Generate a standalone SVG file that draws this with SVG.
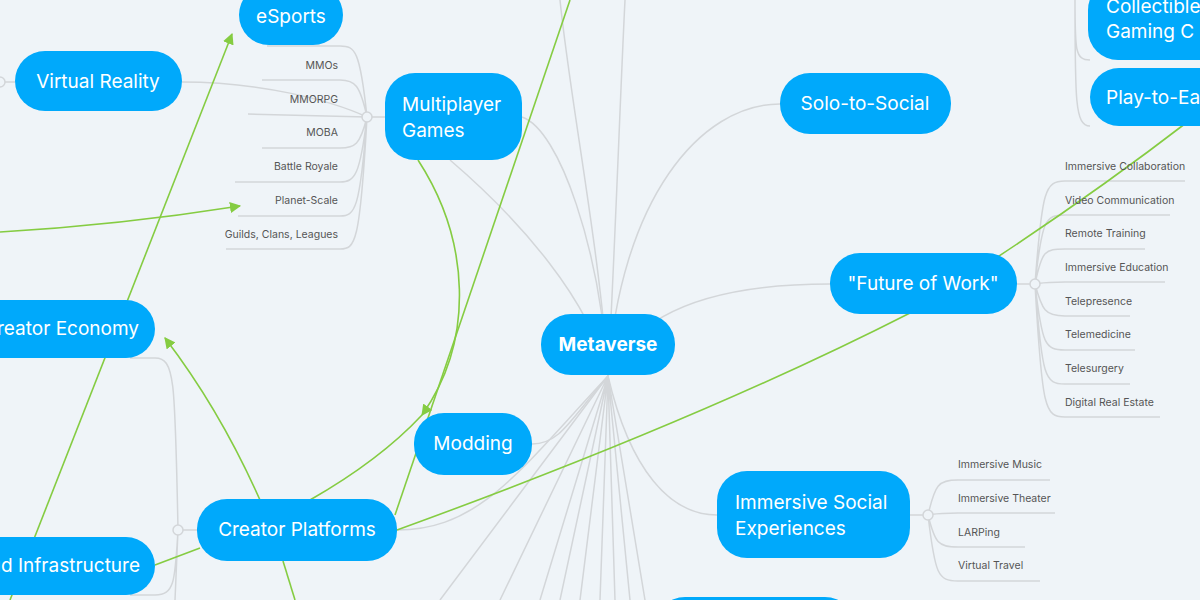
<svg xmlns="http://www.w3.org/2000/svg" width="1200" height="600" viewBox="0 0 1200 600">
<style>
.n{fill:#00a9fb}
.t{font-family:"Inter","Noto Sans",sans-serif;fill:#fff;font-size:19px}
.s{font-family:"Inter","Noto Sans",sans-serif;fill:#555;font-size:10.5px}
.g{fill:none;stroke:#d3d6d9;stroke-width:1.5}
.gr{fill:none;stroke:#85cc42;stroke-width:1.6}
.c{fill:#eff4f8;stroke:#d3d6d9;stroke-width:1.5}
</style>
<defs><marker id="a" viewBox="0 0 10 10" refX="9" refY="5" markerWidth="7" markerHeight="7" orient="auto"><path d="M0,0L10,5L0,10z" fill="#85cc42"/></marker></defs>
<rect width="1200" height="600" fill="#eff4f8"/>
<g id="connectors">
<g class="g">
<path d="M608,376C600,250 560,130 522,117"/>
<path d="M608,376C590,300 520,220 450,160"/>
<path d="M608,376C620,200 700,104 780,104"/>
<path d="M608,376C640,300 740,284 830,284"/>
<path d="M608,376C630,470 670,515 717,515"/>
<path d="M608,376C570,420 560,444 532,444"/>
<path d="M608,376C520,470 480,530 397,530"/>
<path d="M608,376C600,250 570,100 560,0"/>
<path d="M608,376C615,250 620,100 625,0"/>
<path d="M608,376L540,600M608,376L560,600M608,376L580,600M608,376L600,600M608,376L615,600M608,376L630,600M608,376L645,600M608,376L500,600M608,376L440,600"/>
<path d="M182,82C260,82 330,100 367,117"/>
<path d="M367,117L385,117"/>
<path d="M367,117C360,50 355,46 340,46L267,46M367,117C360,85 355,80 340,80L262,80M367,117L248,114M367,117C360,145 355,148 340,148L262,148M367,117C360,175 355,182 340,182L235,182M367,117C360,210 355,216 340,216L238,216M367,117C360,245 355,249 340,249L226,249"/>
<path d="M1017,284L1035,284"/>
<path d="M1035,284C1042,190 1045,181 1065,181L1185,181M1035,284C1042,220 1045,215 1065,215L1170,215M1035,284C1042,250 1045,249 1065,249L1145,249M1035,284C1042,283 1045,282 1065,282L1165,282M1035,284C1042,310 1045,316 1065,316L1130,316M1035,284C1042,345 1045,350 1065,350L1135,350M1035,284C1042,378 1045,384 1065,384L1130,384M1035,284C1042,410 1045,417 1065,417L1160,417"/>
<path d="M910,515L928,515"/>
<path d="M928,515C935,485 938,480 958,480L1050,480M928,515C935,514 938,513 958,513L1055,513M928,515C935,543 938,547 958,547L1025,547M928,515C935,575 938,581 958,581L1040,581"/>
<path d="M197,530L178,530"/>
<path d="M178,530C175,380 175,358 155,358L130,358M178,530C175,580 175,595 155,595L130,595M178,530L175,600"/>
<path d="M1090,60C1075,60 1075,50 1075,0M1090,126C1075,126 1075,100 1075,0"/>
<path d="M0,82L15,82"/>
</g>
<circle class="c" cx="367" cy="117" r="5"/>
<circle class="c" cx="1035" cy="284" r="5"/>
<circle class="c" cx="928" cy="515" r="5"/>
<circle class="c" cx="178" cy="530" r="5"/>
<circle class="c" cx="0" cy="82" r="5"/>
<g class="gr">
<path d="M10,600L232,34" marker-end="url(#a)"/>
<path d="M0,232Q120,225 240,206" marker-end="url(#a)"/>
<path d="M418,160C470,240 475,340 422,415" marker-end="url(#a)"/>
<path d="M310,500Q380,460 422,415"/>
<path d="M395,515L570,0"/>
<path d="M260,500Q220,410 165,338" marker-end="url(#a)"/>
<path d="M200,548L155,565"/>
<path d="M283,561L295,600"/>
<path d="M397,530Q700,420 910,313Q1060,220 1190,120"/>
</g>
</g>
<g id="metaverse"><rect class="n" x="541" y="314" width="134" height="61" rx="30"/><text class="t" x="608" y="351" text-anchor="middle" font-weight="bold">Metaverse</text></g>
<g id="multiplayer"><rect class="n" x="385" y="73" width="137" height="87" rx="30"/><text class="t" x="402" y="111">Multiplayer</text><text class="t" x="402" y="137">Games</text></g>
<g id="esports"><rect class="n" x="239" y="-15" width="104" height="60" rx="30"/><text class="t" x="291" y="23" text-anchor="middle">eSports</text></g>
<g id="vr"><rect class="n" x="15" y="51" width="167" height="60" rx="30"/><text class="t" x="98" y="88" text-anchor="middle">Virtual Reality</text></g>
<g id="solo"><rect class="n" x="780" y="73" width="171" height="61" rx="30"/><text class="t" x="865" y="110" text-anchor="middle">Solo-to-Social</text></g>
<g id="fow"><rect class="n" x="830" y="253" width="187" height="61" rx="30"/><text class="t" x="923" y="290" text-anchor="middle">"Future of Work"</text></g>
<g id="collectible"><rect class="n" x="1088" y="-20" width="140" height="80" rx="30"/><text class="t" x="1106" y="13">Collectible</text><text class="t" x="1106" y="38">Gaming C</text></g>
<g id="p2e"><rect class="n" x="1090" y="68" width="140" height="58" rx="29"/><text class="t" x="1106" y="104">Play-to-Earn</text></g>
<g id="social"><rect class="n" x="717" y="471" width="193" height="87" rx="30"/><text class="t" x="735" y="509">Immersive Social</text><text class="t" x="735" y="535">Experiences</text></g>
<g id="modding"><rect class="n" x="414" y="413" width="118" height="62" rx="30"/><text class="t" x="473" y="450" text-anchor="middle">Modding</text></g>
<g id="cplat"><rect class="n" x="197" y="499" width="200" height="62" rx="30"/><text class="t" x="297" y="536" text-anchor="middle">Creator Platforms</text></g>
<g id="ceco"><rect class="n" x="-60" y="300" width="215" height="58" rx="29"/><text class="t" x="139" y="335" text-anchor="end">Creator Economy</text></g>
<g id="infra"><rect class="n" x="-60" y="537" width="215" height="58" rx="29"/><text class="t" x="140" y="572" text-anchor="end">Cloud Infrastructure</text></g>
<g id="bottom"><rect class="n" x="655" y="597" width="200" height="60" rx="30"/></g>
<g id="mp-items" class="s" text-anchor="end"><text class="s" x="338" y="69">MMOs</text><text class="s" x="338" y="103">MMORPG</text><text class="s" x="338" y="136">MOBA</text><text class="s" x="338" y="170">Battle Royale</text><text class="s" x="338" y="204">Planet-Scale</text><text class="s" x="338" y="238">Guilds, Clans, Leagues</text></g>
<g id="fow-items"><text class="s" x="1065" y="170">Immersive Collaboration</text><text class="s" x="1065" y="204">Video Communication</text><text class="s" x="1065" y="237">Remote Training</text><text class="s" x="1065" y="271">Immersive Education</text><text class="s" x="1065" y="305">Telepresence</text><text class="s" x="1065" y="338">Telemedicine</text><text class="s" x="1065" y="372">Telesurgery</text><text class="s" x="1065" y="406">Digital Real Estate</text></g>
<g id="social-items"><text class="s" x="958" y="468">Immersive Music</text><text class="s" x="958" y="502">Immersive Theater</text><text class="s" x="958" y="536">LARPing</text><text class="s" x="958" y="569">Virtual Travel</text></g>
</svg>
